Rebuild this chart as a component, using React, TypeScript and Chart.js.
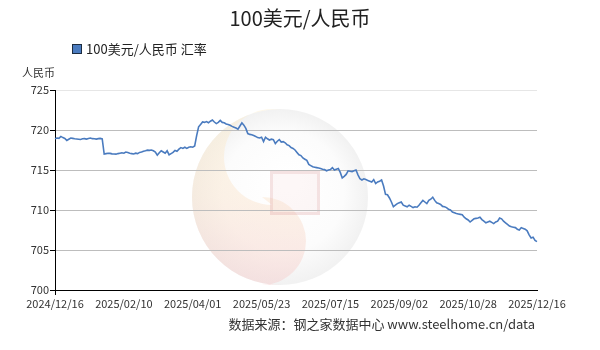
import React, { useEffect, useRef } from "react";
import { Chart, registerables } from "chart.js";

Chart.register(...registerables);

const TITLE = "100美元/人民币";
const SERIES_LABEL = "100美元/人民币 汇率";
const UNIT = "人民币";
const SOURCE = "数据来源：钢之家数据中心 www.steelhome.cn/data";
const TICK_LABELS = [
  "2024/12/16", "2025/02/10", "2025/04/01", "2025/05/23",
  "2025/07/15", "2025/09/02", "2025/10/28", "2025/12/16",
];
const TICK_STEP = 35;
const Y_MIN = 700;
const Y_MAX = 725;
const Y_STEP = 5;

const RATES = [
  718.90, 719.00, 718.95, 719.20, 719.05, 718.95, 718.70, 718.85, 719.00, 718.95,
  718.90, 718.88, 718.85, 718.82, 718.90, 718.92, 718.86, 718.95, 719.00, 718.92,
  718.90, 718.86, 718.92, 718.95, 718.90, 717.00, 717.05, 717.10, 717.08, 717.02,
  717.00, 716.98, 717.05, 717.10, 717.15, 717.10, 717.25, 717.18, 717.10, 717.05,
  717.00, 717.10, 717.05, 717.20, 717.25, 717.35, 717.40, 717.48, 717.45, 717.50,
  717.40, 717.25, 716.85, 717.15, 717.40, 717.25, 717.10, 717.40, 716.90, 717.05,
  717.20, 717.45, 717.35, 717.60, 717.80, 717.70, 717.85, 717.70, 717.85, 717.90,
  717.85, 718.00, 719.30, 720.40, 720.70, 721.00, 720.95, 721.05, 720.90, 721.10,
  721.25, 721.00, 720.80, 720.95, 721.20, 720.95, 720.90, 720.75, 720.70, 720.60,
  720.45, 720.35, 720.25, 720.10, 720.50, 720.90, 720.60, 720.20, 719.55, 719.45,
  719.40, 719.30, 719.20, 719.05, 719.00, 719.10, 718.55, 719.10, 718.90, 718.75,
  718.85, 718.80, 718.30, 718.60, 718.80, 718.50, 718.55, 718.40, 718.15, 718.05,
  717.80, 717.70, 717.50, 717.20, 716.90, 716.80, 716.50, 716.35, 716.20, 715.70,
  715.55, 715.40, 715.35, 715.30, 715.25, 715.20, 715.10, 715.05, 714.90, 715.00,
  715.05, 715.30, 715.00, 715.10, 715.20, 714.70, 714.00, 714.20, 714.45, 714.90,
  714.85, 714.80, 714.90, 715.00, 714.40, 713.90, 713.75, 713.90, 713.80, 713.70,
  713.60, 713.50, 713.80, 713.30, 713.50, 713.60, 713.75, 713.00, 711.95, 711.90,
  711.50, 711.00, 710.40, 710.60, 710.80, 710.90, 711.00, 710.60, 710.50, 710.40,
  710.60, 710.45, 710.30, 710.40, 710.35, 710.60, 710.90, 711.20, 711.00, 710.80,
  711.20, 711.35, 711.60, 711.20, 710.90, 710.80, 710.70, 710.45, 710.40, 710.30,
  710.10, 710.00, 709.75, 709.65, 709.55, 709.50, 709.45, 709.40, 709.10, 708.90,
  708.75, 708.50, 708.70, 708.90, 708.95, 709.00, 709.10, 708.80, 708.60, 708.40,
  708.50, 708.60, 708.45, 708.30, 708.50, 708.60, 709.00, 708.90, 708.60, 708.40,
  708.20, 708.00, 707.90, 707.85, 707.80, 707.60, 707.50, 707.80, 707.70, 707.60,
  707.40, 706.90, 706.50, 706.60, 706.20, 706.05,
];

const CATEGORIES = RATES.map((_, i) =>
  i % TICK_STEP === 0 && TICK_LABELS[i / TICK_STEP] ? TICK_LABELS[i / TICK_STEP] : ""
);

const FONT = '"Noto Sans CJK SC", "Noto Sans", sans-serif';
const LINE_COLOR = "#4a7bbf";

const decorPlugin = {
  id: "decor",
  beforeDraw(chart: any) {
    const { ctx } = chart;
    ctx.save();
    ctx.fillStyle = "#ffffff";
    ctx.fillRect(0, 0, chart.width, chart.height);
    // faint watermark logo
    ctx.globalAlpha = 0.5;
    const cx = 280, cy = 197, r = 88;
    const g = ctx.createRadialGradient(cx + 10, cy - 15, 10, cx, cy, r);
    g.addColorStop(0, "rgba(255,255,255,0.9)");
    g.addColorStop(0.65, "rgba(248,248,248,0.9)");
    g.addColorStop(1, "rgba(225,225,225,0.9)");
    ctx.fillStyle = g;
    ctx.beginPath();
    ctx.arc(cx, cy, r, 0, Math.PI * 2);
    ctx.fill();
    const w = ctx.createLinearGradient(0, cy - r, 0, cy + r);
    w.addColorStop(0, "rgba(252,238,205,0.9)");
    w.addColorStop(0.5, "rgba(250,226,200,0.85)");
    w.addColorStop(1, "rgba(246,200,200,0.85)");
    ctx.fillStyle = w;
    ctx.beginPath();
    ctx.arc(cx, cy, r, Math.PI * 0.5, Math.PI * 1.5);
    ctx.arc(cx - 8, cy - r / 2 + 4, r / 2 + 4, -Math.PI * 0.5, Math.PI * 0.5, true);
    ctx.arc(cx - 18, cy + r / 2, r / 2, -Math.PI * 0.5, Math.PI * 0.5, false);
    ctx.closePath();
    ctx.fill();
    ctx.globalAlpha = 0.6;
    ctx.fillStyle = "rgba(240,200,200,0.25)";
    ctx.fillRect(270, 171, 50, 44);
    ctx.strokeStyle = "rgba(215,150,150,0.35)";
    ctx.lineWidth = 3;
    ctx.strokeRect(271.5, 172.5, 47, 41);
    ctx.restore();
  },
  afterDraw(chart: any) {
    const { ctx } = chart;
    ctx.save();
    ctx.textBaseline = "middle";
    ctx.fillStyle = "#222";
    ctx.font = `20px ${FONT}`;
    ctx.textAlign = "center";
    ctx.fillText(TITLE, 300, 18);

    ctx.fillStyle = LINE_COLOR;
    ctx.fillRect(72, 44, 9, 9);
    ctx.strokeStyle = "#1c2c40";
    ctx.lineWidth = 1;
    ctx.strokeRect(72.5, 44.5, 9, 9);
    ctx.fillStyle = "#222";
    ctx.font = `13px ${FONT}`;
    ctx.textAlign = "left";
    ctx.fillText(chart.data.datasets[0].label, 86, 49);

    ctx.fillStyle = "#333";
    ctx.font = `11px ${FONT}`;
    ctx.fillText(UNIT, 22, 73);

    ctx.font = `13px ${FONT}`;
    ctx.textAlign = "right";
    ctx.fillText(SOURCE, 535, 324);
    ctx.restore();
  },
};

export default function App() {
  const ref = useRef<HTMLCanvasElement | null>(null);
  useEffect(() => {
    document.body.style.margin = "0";
    const canvas = ref.current;
    if (!canvas) return;
    const last = RATES.length - 1;
    const chart = new Chart(canvas, {
      type: "line",
      data: {
        labels: CATEGORIES,
        datasets: [
          {
            label: SERIES_LABEL,
            data: RATES,
            borderColor: LINE_COLOR,
            backgroundColor: LINE_COLOR,
            borderWidth: 1.6,
            pointRadius: 0,
            tension: 0,
            fill: false,
          },
        ],
      },
      options: {
        responsive: false,
        animation: false,
        devicePixelRatio: 1,
        layout: { padding: { top: 90, right: 63, left: 0, bottom: 0 } },
        plugins: {
          legend: { display: false },
          title: { display: false },
          tooltip: { enabled: false },
        },
        scales: {
          x: {
            type: "category",
            offset: false,
            afterFit: (scale: any) => {
              scale.height = 60;
            },
            border: { color: "#000", width: 1 },
            grid: {
              drawOnChartArea: true,
              color: (c: any) => (c.index === last ? "#e3e3e3" : "rgba(0,0,0,0)"),
              tickColor: (c: any) => (CATEGORIES[c.index] ? "#000" : "rgba(0,0,0,0)"),
              tickLength: 5,
            },
            ticks: {
              autoSkip: false,
              maxRotation: 0,
              minRotation: 0,
              padding: 2,
              color: "#333",
              font: { family: FONT, size: 11 },
              callback: (_v: any, i: number) => (CATEGORIES[i] ? CATEGORIES[i] : null),
            },
          },
          y: {
            min: Y_MIN,
            max: Y_MAX,
            afterFit: (scale: any) => {
              scale.width = 55;
            },
            border: { color: "#000", width: 1 },
            grid: {
              color: (c: any) =>
                c.tick && c.tick.value === Y_MAX
                  ? "#e6e6e6"
                  : c.tick && c.tick.value === Y_MIN
                  ? "rgba(0,0,0,0)"
                  : "#bdbdbd",
              tickColor: "#000",
              tickLength: 5,
            },
            ticks: {
              stepSize: Y_STEP,
              padding: 1,
              color: "#333",
              font: { family: FONT, size: 11 },
            },
          },
        },
      },
      plugins: [decorPlugin],
    });
    return () => chart.destroy();
  }, []);
  return (
    <div style={{ width: 600, height: 350, position: "relative" }}>
      <canvas ref={ref} width={600} height={350} style={{ display: "block" }} />
    </div>
  );
}
